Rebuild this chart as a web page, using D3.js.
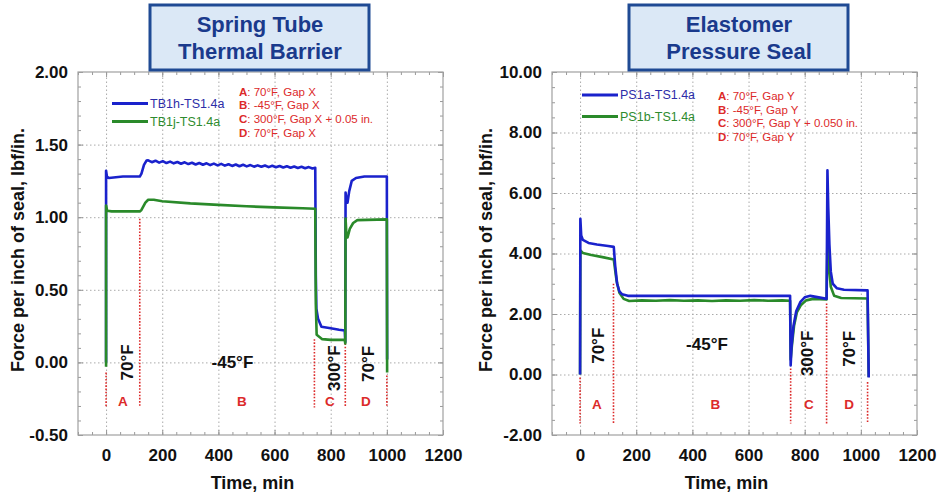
<!DOCTYPE html>
<html>
<head>
<meta charset="utf-8">
<script src="https://cdn.jsdelivr.net/npm/d3@7"></script>
<style>
  body { margin: 0; background: #fff; }
  text { font-family: "Liberation Sans", Arial, sans-serif; }
</style>
</head>
<body>
<svg id="chart" width="938" height="496"></svg>
<script>
// ---- data ----
const xTicks = [0, 200, 400, 600, 800, 1000, 1200]
const leftYTicks = [-0.5, 0, 0.5, 1, 1.5, 2]
const rightYTicks = [-2, 0, 2, 4, 6, 8, 10]

const leftTitle = ["Spring Tube", "Thermal Barrier"]
const rightTitle = ["Elastomer", "Pressure Seal"]
const leftNames = ["TB1h-TS1.4a", "TB1j-TS1.4a"]
const rightNames = ["PS1a-TS1.4a", "PS1b-TS1.4a"]
const phaseLetters = ["A", "B", "C", "D"]
const phaseTemps = ["70°F", "-45°F", "300°F", "70°F"]
const leftNotes = ["70°F, Gap X", "-45°F, Gap X", "300°F, Gap X + 0.05 in.", "70°F, Gap X"]
const rightNotes = ["70°F, Gap Y", "-45°F, Gap Y", "300°F, Gap Y + 0.050 in.", "70°F, Gap Y"]

// [time, force]
const tb1h = [[0, 0], [0, 1.32], [3, 1.28], [10, 1.27], [60, 1.28], [120, 1.28], [126, 1.30], [135, 1.36], [144, 1.39],
  [150, 1.392], [163, 1.379], [176, 1.389], [189, 1.376], [202, 1.386], [215, 1.373], [228, 1.383], [241, 1.371],
  [254, 1.380], [267, 1.368], [280, 1.378], [293, 1.366], [306, 1.375], [319, 1.363], [332, 1.373], [345, 1.361],
  [358, 1.371], [371, 1.359], [384, 1.369], [397, 1.357], [410, 1.367], [423, 1.355], [436, 1.365], [449, 1.353],
  [462, 1.363], [475, 1.351], [488, 1.361], [501, 1.350], [514, 1.359], [527, 1.348], [540, 1.357], [553, 1.347],
  [566, 1.356], [579, 1.345], [592, 1.354], [605, 1.344], [618, 1.353], [631, 1.342], [644, 1.351], [657, 1.341],
  [670, 1.349], [683, 1.339], [696, 1.347], [709, 1.337], [722, 1.345], [735, 1.335], [745, 1.340],
  [747, 0.6], [749, 0.37], [755, 0.30], [767, 0.245], [800, 0.235], [830, 0.225], [850, 0.22], [852, 0.14],
  [853, 1.17], [856, 1.12], [860, 1.10], [866, 1.18], [875, 1.25], [890, 1.27], [920, 1.28], [960, 1.28],
  [1000, 1.28], [1001, 0.02]]
const tb1j = [[0, -0.03], [0, 1.08], [4, 1.045], [20, 1.04], [120, 1.04], [126, 1.05], [140, 1.10], [150, 1.12],
  [170, 1.12], [200, 1.11], [300, 1.095], [400, 1.085], [500, 1.075], [600, 1.068], [700, 1.062], [745, 1.058],
  [747, 0.4], [750, 0.19], [770, 0.16], [800, 0.155], [850, 0.155], [852, 0.13],
  [853, 0.99], [856, 0.88], [860, 0.86], [868, 0.92], [880, 0.96], [895, 0.98], [1000, 0.985], [1001, -0.07]]
const ps1a = [[0, 0], [1, 5.15], [4, 4.6], [10, 4.45], [30, 4.35], [60, 4.3], [100, 4.25], [120, 4.22],
  [125, 3.6], [132, 3.0], [140, 2.75], [150, 2.65], [170, 2.6], [400, 2.6], [748, 2.6],
  [750, 0.3], [753, 0.9], [760, 1.6], [770, 2.1], [785, 2.4], [800, 2.55], [820, 2.6], [850, 2.55], [878, 2.5],
  [881, 6.75], [884, 5.5], [888, 4.3], [893, 3.4], [900, 3.0], [915, 2.85], [940, 2.8], [1024, 2.78], [1028, -0.1]]
const ps1b = [[0, 0], [1, 4.1], [10, 4.02], [40, 3.95], [80, 3.88], [120, 3.8], [130, 3.1], [140, 2.7], [155, 2.5],
  [175, 2.43], [220, 2.45], [270, 2.44], [320, 2.46], [370, 2.44], [420, 2.45], [470, 2.43], [520, 2.45],
  [570, 2.44], [620, 2.46], [670, 2.44], [720, 2.45], [748, 2.44],
  [750, 0.5], [755, 1.0], [762, 1.6], [772, 2.05], [787, 2.3], [805, 2.45], [830, 2.5], [878, 2.48],
  [881, 4.5], [886, 3.6], [893, 2.9], [905, 2.6], [930, 2.53], [1024, 2.51], [1028, -0.08]]

// phase boundaries: [time, top of dotted line]
const leftBounds = [[0, -0.07], [120, 0.99], [742, 0.16], [852, 0.13], [1000, -0.09]]
const rightBounds = [[0, -0.1], [119, 3.0], [750, 0.2], [878, 2.35], [1024, -0.25]]
const leftLetterT = [60, 484, 797, 925]
const rightLetterT = [60, 482, 815, 958]
const leftTempAt = [[76, 0.0], [450, 0.0], [813, -0.04], [936, -0.01]]
const rightTempAt = [[64, 0.95], [452, 1.0], [810, 0.7], [960, 0.85]]

// ---- drawing ----
const svg = d3.select("#chart")
const blue = "#1a22cc"
const green = "#2a8a2a"
const red = "#dc2a2a"
const fmt2 = d => d.toFixed(2)

function drawPanel(p) {
    const x = d3.scaleLinear().domain([-100, 1200]).range([p.left, p.right])
    const y = d3.scaleLinear().domain(p.yDomain).range([p.bottom, p.top])
    const g = svg.append("g")
    const w = p.right - p.left
    const h = p.bottom - p.top

    // grid
    g.append("g")
        .attr("transform", `translate(0,${p.bottom})`)
        .call(d3.axisBottom(x).tickValues(xTicks.slice(0, -1)).tickSize(-h).tickFormat(""))
        .call(a => a.select(".domain").remove())
        .selectAll("line").attr("stroke", "#aaa").attr("stroke-dasharray", "1.5,2.5")
    g.append("g")
        .attr("transform", `translate(${p.left},0)`)
        .call(d3.axisLeft(y).tickValues(p.yTicks.slice(1, -1)).tickSize(-w).tickFormat(""))
        .call(a => a.select(".domain").remove())
        .selectAll("line").attr("stroke", "#aaa").attr("stroke-dasharray", "1.5,2.5")

    // inward ticks on all four sides
    const xMinor = d3.range(-100, 1201, 50)
    const yMinor = d3.range(p.yDomain[0], p.yDomain[1] + 1e-9, p.yMinorStep)
    const sides = [
        [d3.axisBottom(x), `translate(0,${p.bottom})`, xMinor, xTicks],
        [d3.axisTop(x), `translate(0,${p.top})`, xMinor, xTicks],
        [d3.axisLeft(y), `translate(${p.left},0)`, yMinor, p.yTicks],
        [d3.axisRight(y), `translate(${p.right},0)`, yMinor, p.yTicks]
    ]
    sides.forEach(([ax, tr, minor, major]) => {
        g.append("g").attr("transform", tr)
            .call(ax.tickValues(minor).tickSize(-3).tickFormat(""))
            .call(a => a.select(".domain").remove())
            .selectAll("line").attr("stroke", "#999")
        g.append("g").attr("transform", tr)
            .call(ax.tickValues(major).tickSize(-5).tickFormat(""))
            .call(a => a.select(".domain").remove())
            .selectAll("line").attr("stroke", "#999")
    })

    g.append("rect")
        .attr("x", p.left).attr("y", p.top).attr("width", w).attr("height", h)
        .attr("fill", "none").attr("stroke", "#a0a0a0").attr("stroke-width", 1.2)

    // tick labels
    g.append("g")
        .attr("transform", `translate(0,${p.bottom})`)
        .call(d3.axisBottom(x).tickValues(xTicks).tickSize(0).tickPadding(14).tickFormat(d => String(d)))
        .call(a => a.select(".domain").remove())
        .selectAll("text")
        .attr("font-size", 17).attr("font-weight", "bold").attr("fill", "#111")
        .style("font-family", '"Liberation Sans", Arial, sans-serif')
    g.append("g")
        .attr("transform", `translate(${p.left},0)`)
        .call(d3.axisLeft(y).tickValues(p.yTicks).tickSize(0).tickPadding(10).tickFormat(fmt2))
        .call(a => a.select(".domain").remove())
        .selectAll("text")
        .attr("font-size", 17).attr("font-weight", "bold").attr("fill", "#111")
        .style("font-family", '"Liberation Sans", Arial, sans-serif')

    // axis titles
    g.append("text")
        .attr("x", (p.left + p.right) / 2 - 8).attr("y", 489)
        .attr("text-anchor", "middle").attr("font-size", 18).attr("font-weight", "bold").attr("fill", "#111")
        .text("Time, min")
    g.append("text")
        .attr("transform", `translate(${p.yTitleX},250) rotate(-90)`)
        .attr("text-anchor", "middle").attr("dominant-baseline", "central")
        .attr("font-size", 18).attr("font-weight", "bold").attr("fill", "#111")
        .text("Force per inch of seal, lbf/in.")

    // phase boundaries
    g.selectAll(".bound").data(p.bounds).enter().append("line")
        .attr("x1", d => x(d[0])).attr("x2", d => x(d[0]))
        .attr("y1", d => y(d[1])).attr("y2", y(p.boundBottom))
        .attr("stroke", red).attr("stroke-width", 1.6).attr("stroke-dasharray", "1.6,1.6")

    g.selectAll(".letter").data(phaseLetters).enter().append("text")
        .attr("x", (d, i) => x(p.letterT[i])).attr("y", y(p.letterV))
        .attr("text-anchor", "middle").attr("dominant-baseline", "central")
        .attr("font-size", 13.5).attr("font-weight", "bold").attr("fill", red)
        .text(d => d)

    g.selectAll(".temp").data(phaseTemps).enter().append("text")
        .attr("transform", (d, i) => `translate(${x(p.tempAt[i][0])},${y(p.tempAt[i][1])}) rotate(${i === 1 ? 0 : -90})`)
        .attr("text-anchor", "middle").attr("dominant-baseline", "central")
        .attr("font-size", 17).attr("font-weight", "bold").attr("fill", "#111")
        .text(d => d)

    // series
    const line = d3.line().x(d => x(d[0])).y(d => y(d[1]))
    p.series.forEach(s => {
        g.append("path").datum(s.data)
            .attr("d", line).attr("fill", "none")
            .attr("stroke", s.color).attr("stroke-width", 2.6).attr("stroke-linejoin", "round")
    })

    // legend
    p.names.forEach((n, i) => {
        const ly = p.legendY[i]
        g.append("line")
            .attr("x1", p.legendX).attr("x2", p.legendX + 36).attr("y1", ly).attr("y2", ly)
            .attr("stroke", i === 0 ? blue : green).attr("stroke-width", 3)
        g.append("text")
            .attr("x", p.legendX + 38).attr("y", ly).attr("dominant-baseline", "central")
            .attr("font-size", 12.5).attr("fill", i === 0 ? "#2d2da8" : "#2e8b2e")
            .text(n)
    })

    // condition notes
    p.notes.forEach((n, i) => {
        const t = g.append("text")
            .attr("x", p.noteX).attr("y", p.noteY + i * 13.8)
            .attr("dominant-baseline", "central")
            .attr("font-size", 11.5).attr("fill", red)
        t.append("tspan").attr("font-weight", "bold").text(phaseLetters[i])
        t.append("tspan").text(": " + n)
    })

    // title box
    const tb = svg.append("g")
    tb.append("rect")
        .attr("x", p.boxX).attr("y", 5).attr("width", 219).attr("height", 65)
        .attr("fill", "#dbe8f6").attr("stroke", "#1f4a94").attr("stroke-width", 3)
    p.title.forEach((t, i) => {
        tb.append("text")
            .attr("x", p.boxX + 110).attr("y", 24 + i * 27)
            .attr("text-anchor", "middle").attr("dominant-baseline", "central")
            .attr("font-size", 22).attr("font-weight", "bold").attr("fill", "#1a3a8c")
            .text(t)
    })
}

drawPanel({
    left: 78, right: 443, top: 72, bottom: 435,
    yDomain: [-0.5, 2], yTicks: leftYTicks, yMinorStep: 0.1, yTitleX: 18,
    series: [{ data: tb1h, color: blue }, { data: tb1j, color: green }],
    names: leftNames, legendX: 112, legendY: [103.5, 121.5],
    notes: leftNotes, noteX: 239, noteY: 91.5,
    bounds: leftBounds, boundBottom: -0.31, letterT: leftLetterT, letterV: -0.27, tempAt: leftTempAt,
    title: leftTitle, boxX: 150
})

drawPanel({
    left: 552, right: 917, top: 72, bottom: 435,
    yDomain: [-2, 10], yTicks: rightYTicks, yMinorStep: 0.5, yTitleX: 486,
    series: [{ data: ps1b, color: green }, { data: ps1a, color: blue }],
    names: rightNames, legendX: 582, legendY: [95, 116.5],
    notes: rightNotes, noteX: 718, noteY: 95.7,
    bounds: rightBounds, boundBottom: -1.62, letterT: rightLetterT, letterV: -1.0, tempAt: rightTempAt,
    title: rightTitle, boxX: 629
})
</script>
</body>
</html>
